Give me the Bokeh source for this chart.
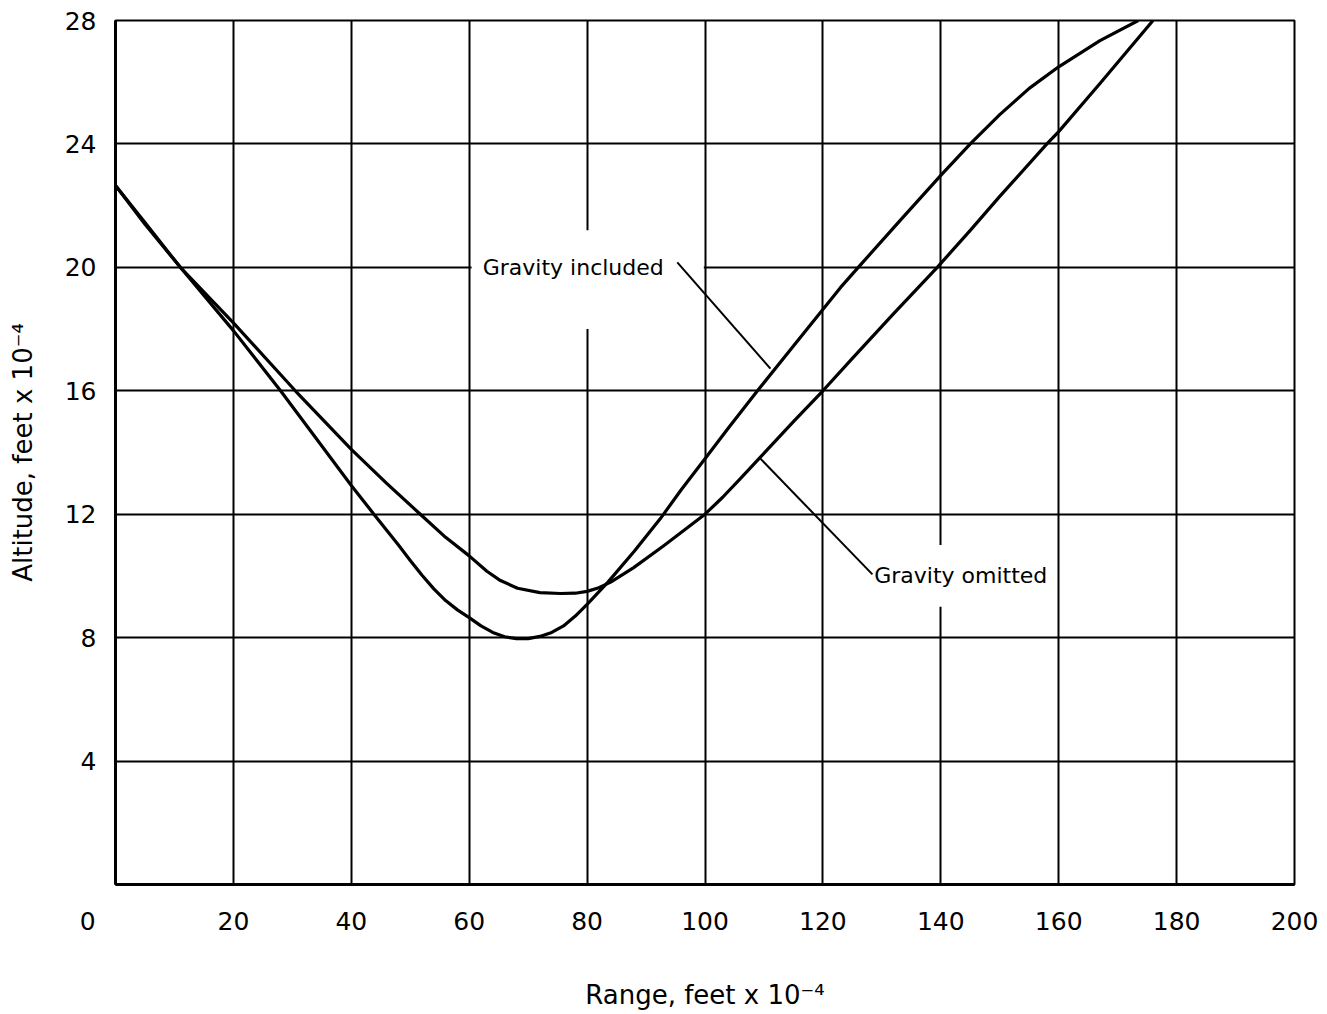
from bokeh.plotting import figure
from bokeh.models import Range1d, FixedTicker, Label
from bokeh.embed import file_html
from bokeh.resources import INLINE

# Data (range and altitude in units of 10^4 feet)
included_x = [0, 5, 11, 20, 28, 32.5, 40, 44, 48, 50, 52, 54, 56, 58, 60, 62, 64, 66, 68, 70,
              72, 74, 76, 78, 80, 83.5, 88, 92.4, 96, 100, 104, 108.9, 115, 123, 126, 133, 140,
              145, 150, 155, 160, 167, 173.5]
included_y = [22.65, 21.4, 20.0, 17.95, 16.0, 14.85, 12.93, 11.96, 11.0, 10.5, 10.02, 9.58, 9.2, 8.9,
              8.65, 8.38, 8.17, 8.03, 7.97, 7.97, 8.04, 8.17, 8.38, 8.7, 9.08, 9.79, 10.8, 11.85,
              12.8, 13.8, 14.8, 16.0, 17.45, 19.35, 20.0, 21.5, 22.98, 24.0, 24.95, 25.8, 26.5,
              27.35, 28.0]

omitted_x = [0, 5, 11, 20, 30.5, 40, 46, 51.7, 56, 60, 63, 65.3, 68.2, 72, 75.5, 78, 80, 82, 84,
             87.9, 93, 97, 100, 103, 106, 109.4, 115, 120, 125, 132, 139.4, 145, 150, 158, 160,
             167, 176]
omitted_y = [22.65, 21.45, 20.0, 18.2, 16.0, 14.1, 13.0, 12.0, 11.25, 10.65, 10.15, 9.85, 9.6, 9.46,
             9.43, 9.44, 9.5, 9.62, 9.8, 10.27, 10.98, 11.56, 12.0, 12.55, 13.15, 13.85, 15.0, 16.0,
             17.05, 18.5, 20.0, 21.2, 22.3, 24.0, 24.4, 25.96, 28.0]

x_ticks = [0, 20, 40, 60, 80, 100, 120, 140, 160, 180, 200]
y_ticks = [4, 8, 12, 16, 20, 24, 28]

label_included = "Gravity included"
label_omitted = "Gravity omitted"
included_leader_x = [95.3, 111.1]
included_leader_y = [20.16, 16.72]
omitted_leader_x = [109.4, 128.4]
omitted_leader_y = [13.8, 10.05]

FONT = "DejaVu Sans"
NBSP = "\u00a0"

p = figure(width=1327, height=1014, output_backend="svg", toolbar_location=None,
           x_range=Range1d(0, 200), y_range=Range1d(0, 28),
           min_border_left=115, min_border_right=33, min_border_top=20, min_border_bottom=130)

p.background_fill_color = "white"
p.border_fill_color = "white"
p.outline_line_color = "black"
p.outline_line_width = 2

p.xaxis.ticker = FixedTicker(ticks=x_ticks)
p.yaxis.ticker = FixedTicker(ticks=y_ticks)
# the origin label sits apart to the left of the corner
p.xaxis.major_label_overrides = {0: "0" + NBSP * 7}

for ax in (p.xaxis, p.yaxis):
    ax.axis_line_color = "black"
    ax.axis_line_width = 3
    ax.major_tick_line_color = None
    ax.minor_tick_line_color = None
    ax.major_label_text_font = FONT
    ax.major_label_text_font_size = "25px"
    ax.major_label_text_color = "black"
    ax.axis_label_text_font = FONT
    ax.axis_label_text_font_size = "26px"
    ax.axis_label_text_font_style = "normal"
    ax.axis_label_text_color = "black"

p.xaxis.major_label_standoff = 16
p.yaxis.major_label_standoff = 13
p.xaxis.axis_label = "Range, feet x 10\u207b\u2074"
p.yaxis.axis_label = "Altitude, feet x 10\u207b\u2074"
p.xaxis.axis_label_standoff = 41
p.yaxis.axis_label_standoff = 24

p.xgrid.ticker = FixedTicker(ticks=x_ticks)
p.ygrid.ticker = FixedTicker(ticks=y_ticks)
for g in (p.xgrid, p.ygrid):
    g.grid_line_color = "black"
    g.grid_line_width = 2
    g.grid_line_alpha = 1.0

# white patches where the grid is interrupted behind the annotation texts
p.quad(left=[60.4, 128.6], right=[99.8, 159.6], bottom=[18.0, 9.0], top=[21.2, 11.0],
       fill_color="white", line_color=None)

p.line(included_x, included_y, line_color="black", line_width=3.2, line_join="round")
p.line(omitted_x, omitted_y, line_color="black", line_width=3.2, line_join="round")

p.line(included_leader_x, included_leader_y, line_color="black", line_width=2)
p.line(omitted_leader_x, omitted_leader_y, line_color="black", line_width=2)

p.add_layout(Label(x=62.3, y=20.0, text=label_included, text_font=FONT, text_font_size="22px",
                   text_baseline="middle", text_align="left", text_color="black"))
p.add_layout(Label(x=128.7, y=10.0, text=label_omitted, text_font=FONT, text_font_size="22px",
                   text_baseline="middle", text_align="left", text_color="black"))

open("out.html", "w").write(file_html(p, INLINE))
